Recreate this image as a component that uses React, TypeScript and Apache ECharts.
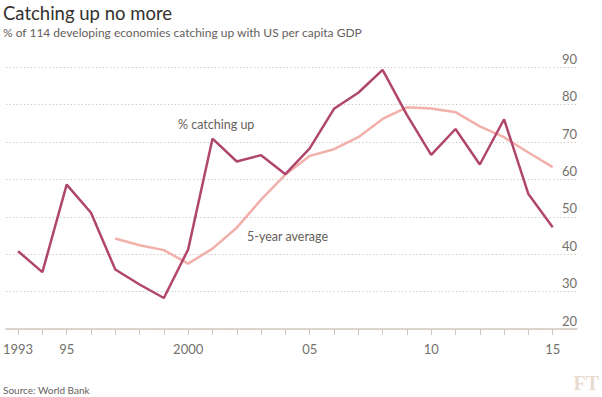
import React, { useEffect, useRef } from "react";
import * as echarts from "echarts";

const years = [1993, 1994, 1995, 1996, 1997, 1998, 1999, 2000, 2001, 2002, 2003, 2004, 2005, 2006, 2007, 2008, 2009, 2010, 2011, 2012, 2013, 2014, 2015];
const catchingUp = [40.8, 35.2, 58.6, 51.1, 35.9, 31.9, 28.3, 41.3, 70.9, 64.8, 66.5, 61.4, 68.3, 78.9, 83.2, 89.3, 77.3, 66.6, 73.5, 64.0, 76.1, 56.1, 47.2];
const avgYears = [1997, 1998, 1999, 2000, 2001, 2002, 2003, 2004, 2005, 2006, 2007, 2008, 2009, 2010, 2011, 2012, 2013, 2014, 2015];
const fiveYearAvg = [44.2, 42.4, 41.1, 37.5, 41.5, 47.1, 54.6, 61.3, 66.3, 68.1, 71.3, 76.2, 79.3, 79.0, 78.0, 74.2, 71.3, 67.2, 63.3];
const xLabelYears = [1993, 1995, 2000, 2005, 2010, 2015];
const xLabelTexts = ["1993", "95", "2000", "05", "10", "15"];

const FONT = "Lato, 'Open Sans', sans-serif";

export default function App() {
  const ref = useRef<HTMLDivElement>(null);
  useEffect(() => {
    document.body.style.margin = "0";
    const chart = echarts.init(ref.current!, null, { renderer: "svg" });
    chart.setOption({
      animation: false,
      backgroundColor: "#ffffff",
      textStyle: { fontFamily: FONT },
      grid: { left: 3, right: 25, top: 67.3, bottom: 68 },
      xAxis: {
        type: "value",
        min: 1992.5,
        max: 2016,
        splitLine: { show: false },
        axisLine: { show: true, lineStyle: { color: "#cfc8be", width: 1.5 } },
        axisTick: {
          show: true,
          length: 6,
          lineStyle: { color: "#cfc8be", width: 1 },
          customValues: years,
        },
        axisLabel: {
          customValues: xLabelYears,
          formatter: (v: number) => xLabelTexts[xLabelYears.indexOf(Math.round(v))] ?? "",
          color: "#74716c",
          fontSize: 13,
          fontFamily: FONT,
          margin: 13,
        },
      },
      yAxis: {
        type: "value",
        position: "right",
        min: 20,
        max: 90,
        interval: 10,
        axisLine: { show: false },
        axisTick: { show: false },
        splitLine: { show: true, lineStyle: { color: "#c9c2b8", type: [1.2, 2.4], width: 1 } },
        axisLabel: {
          inside: true,
          align: "right",
          verticalAlign: "bottom",
          margin: 0,
          padding: [0, 0, 2, 0],
          color: "#74716c",
          fontSize: 13,
          fontFamily: FONT,
        },
      },
      series: [
        {
          type: "line",
          name: "5-year average",
          data: avgYears.map((y, i) => [y, fiveYearAvg[i]]),
          showSymbol: false,
          lineStyle: { color: "#f2b0aa", width: 2.5 },
          z: 2,
        },
        {
          type: "line",
          name: "% catching up",
          data: years.map((y, i) => [y, catchingUp[i]]),
          showSymbol: false,
          lineStyle: { color: "#b0466c", width: 2.5 },
          z: 3,
        },
      ],
      graphic: [
        {
          type: "text",
          left: 3,
          top: 3,
          style: { text: "Catching up no more", fill: "#33302e", font: `18.5px ${FONT}` },
        },
        {
          type: "text",
          left: 3,
          top: 26,
          style: { text: "% of 114 developing economies catching up with US per capita GDP", fill: "#66605c", font: `12px ${FONT}` },
        },
        {
          type: "text",
          left: 178,
          top: 118,
          style: { text: "% catching up", fill: "#66605c", font: `12.5px ${FONT}` },
        },
        {
          type: "text",
          left: 247,
          top: 230,
          style: { text: "5-year average", fill: "#66605c", font: `12.5px ${FONT}` },
        },
        {
          type: "text",
          left: 3,
          top: 385,
          style: { text: "Source: World Bank", fill: "#66605c", font: `10px ${FONT}` },
        },
        {
          type: "text",
          right: 3,
          top: 373,
          style: { text: "FT", fill: "#e8dbcf", font: `bold 20px 'Liberation Serif', 'DejaVu Serif', serif` },
        },
      ],
    });
    return () => chart.dispose();
  }, []);
  return <div ref={ref} style={{ width: 602, height: 397 }} />;
}
